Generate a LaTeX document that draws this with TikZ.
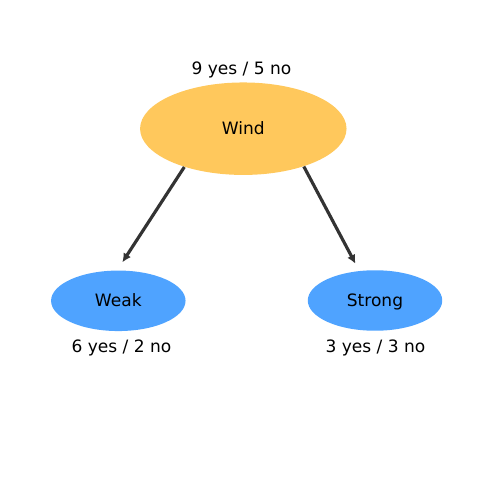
\documentclass[tikz,border=0pt]{standalone}
\usepackage{fontspec}
\setmainfont{DejaVu Sans}
\usepackage{tikz}
\usetikzlibrary{arrows.meta, shapes.geometric}

\definecolor{windorange}{HTML}{FFC85C}
\definecolor{leafblue}{HTML}{4FA3FF}
\definecolor{edgegray}{HTML}{333333}

\tikzset{
    label text/.style={font=\fontsize{9.7pt}{11pt}\selectfont, text height=1.6ex, text depth=0.4ex},
    split/.style={ellipse, fill=windorange, inner sep=0pt, minimum width=4.13cm, minimum height=1.85cm, label text},
    leaf/.style={ellipse, fill=leafblue, inner sep=0pt, minimum width=2.69cm, minimum height=1.21cm, label text},
    count/.style={inner sep=0pt, label text},
    branch/.style={draw=edgegray, line width=1.8pt, -{Latex[length=5pt, width=5pt]}}
}

\begin{document}
\begin{tikzpicture}[x=0.02cm, y=-0.02cm]
    \useasboundingbox (0, 0) rectangle (500, 500);

    \node[split] at (243.3, 128.7) (wind) {Wind};
    \node[leaf] at (118.3, 300.8) (weak) {Weak};
    \node[leaf] at (375, 300.5) (strong) {Strong};

    \node[count] at (241.5, 68.5) (windcount) {9 yes / 5 no};
    \node[count] at (121.5, 346.5) (weakcount) {6 yes / 2 no};
    \node[count] at (375.5, 346.5) (strongcount) {3 yes / 3 no};

    \draw[branch, shorten >=0.19cm] (wind.213.9) -- (weak.92.7);
    \draw[branch, shorten >=0.16cm] (wind.328.6) -- (strong.118.9);
\end{tikzpicture}
\end{document}
